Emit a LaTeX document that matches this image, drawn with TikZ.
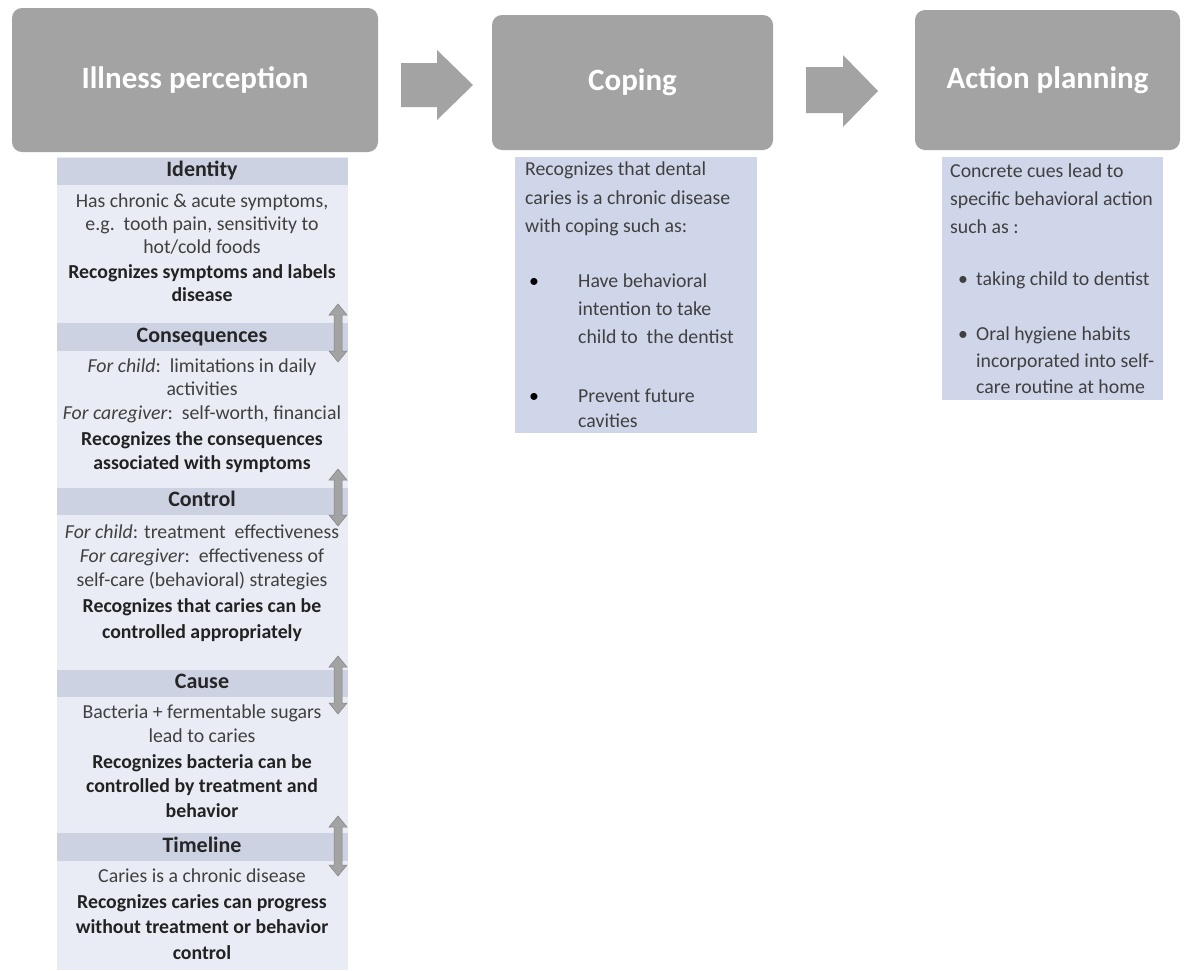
\documentclass[tikz,border=0pt]{standalone}
\usepackage{fontspec}
\setmainfont{Carlito}
\definecolor{hdr}{HTML}{A3A3A3}
\definecolor{panel}{HTML}{E9ECF4}
\definecolor{band}{HTML}{CDD2E2}
\definecolor{card}{HTML}{D0D6E9}
\definecolor{txt}{HTML}{404040}
\definecolor{btxt}{HTML}{222222}
\definecolor{arr}{HTML}{A3A3A3}
\newcommand\vdbl[3]{%
  \fill[arr,draw=arr!80!black,line width=0.5pt]
   (#1-4,#2+11) -- (#1-9,#2+11) -- (#1,#2) -- (#1+9,#2+11) -- (#1+4,#2+11)
   -- (#1+4,#3-11) -- (#1+9,#3-11) -- (#1,#3) -- (#1-9,#3-11) -- (#1-4,#3-11) -- cycle;}
\tikzset{
  hdrbox/.style={fill=hdr, rounded corners=10pt, text=white, inner sep=0pt,
     font=\fontsize{31}{37}\selectfont\bfseries},
  nrm/.style={text=txt, inner sep=0pt, text height=14pt, text depth=4pt,
     font=\fontsize{19.8}{24}\selectfont},
  bld/.style={nrm, text=btxt, font=\fontsize{19.8}{24}\selectfont\bfseries},
  ttl/.style={bld, text=black!85, font=\fontsize{22}{26}\selectfont\bfseries},
  lft/.style={nrm, anchor=west},
}
\begin{document}
\begin{tikzpicture}[x=1pt,y=-1pt]
\useasboundingbox[fill=white] (0,0) rectangle (1186,970);
% header boxes
\node[hdrbox, minimum width=366pt, minimum height=144pt] (ip) at (195,80) {Illness perception};
\node[hdrbox, minimum width=281pt, minimum height=135pt] (cp) at (632.5,82.5) {Coping};
\node[hdrbox, minimum width=265pt, minimum height=140pt] (ap) at (1047.5,80) {Action planning};
% block arrows
\fill[arr] (401,63) -- (437,63) -- (437,50) -- (473,85) -- (437,120) -- (437,107) -- (401,107) -- cycle;
\fill[arr] (806,67) -- (843,67) -- (843,55) -- (878,91) -- (843,127) -- (843,113) -- (806,113) -- cycle;
% left panel
\fill[panel] (57,157) rectangle (348,970);
\fill[band] (57,158) rectangle (348,185);
\fill[band] (57,323) rectangle (348,351);
\fill[band] (57,488) rectangle (348,515);
\fill[band] (57,670) rectangle (348,697);
\fill[band] (57,833) rectangle (348,861);
\node[ttl] (t1) at (202,171) {Identity};
\node[nrm] (a1) at (202,202) {Has chronic \& acute symptoms,};
\node[nrm] (a2) at (202,225) {e.g.\ \ tooth pain, sensitivity to};
\node[nrm] (a3) at (202,248) {hot/cold foods};
\node[bld] (a4) at (202,273) {Recognizes symptoms and labels};
\node[bld] (a5) at (202,296) {disease};
\node[ttl] (t2) at (202,337) {Consequences};
\node[nrm] (b1) at (202,367) {\textit{For child}:\ \ limitations in daily};
\node[nrm] (b2) at (202,390) {activities};
\node[nrm] (b3) at (202,414) {\textit{For caregiver}:\ \ self-worth, financial};
\node[bld] (b4) at (202,440) {Recognizes the consequences};
\node[bld] (b5) at (202,464) {associated with symptoms};
\node[ttl] (t3) at (202,501) {Control};
\node[nrm] (c1) at (202,533) {\textit{For child}: treatment\ \ effectiveness};
\node[nrm] (c2) at (202,557) {\textit{For caregiver}:\ \ effectiveness of};
\node[nrm] (c3) at (202,581) {self-care (behavioral) strategies};
\node[bld] (c4) at (202,607) {Recognizes that caries can be};
\node[bld] (c5) at (202,633) {controlled appropriately};
\node[ttl] (t4) at (202,683) {Cause};
\node[nrm] (d1) at (202,713) {Bacteria + fermentable sugars};
\node[nrm] (d2) at (202,737) {lead to caries};
\node[bld] (d3) at (202,763) {Recognizes bacteria can be};
\node[bld] (d4) at (202,787) {controlled by treatment and};
\node[bld] (d5) at (202,812) {behavior};
\node[ttl] (t5) at (202,847) {Timeline};
\node[nrm] (e1) at (202,877) {Caries is a chronic disease};
\node[bld] (e2) at (202,903) {Recognizes caries can progress};
\node[bld] (e3) at (202,928) {without treatment or behavior};
\node[bld] (e4) at (202,954) {control};
% vertical double arrows
\vdbl{338}{304}{362}
\vdbl{338}{469}{526}
\vdbl{338}{656}{714}
\vdbl{338}{816}{876}
% middle card
\fill[card] (515,157) rectangle (757,433);
\node[lft] (m1) at (525,170) {Recognizes that dental};
\node[lft] (m2) at (525,199) {caries is a chronic disease};
\node[lft] (m3) at (525,227) {with coping such as:};
\node[lft, text=black] (mb1) at (529,282) {•};
\node[lft] (m4) at (578,282) {Have behavioral};
\node[lft] (m5) at (578,310) {intention to take};
\node[lft] (m6) at (578,338) {child to\ \ the dentist};
\node[lft, text=black] (mb2) at (529,397) {•};
\node[lft] (m7) at (578,397) {Prevent future};
\node[lft] (m8) at (578,422) {cavities};
% right card
\fill[card] (942,157) rectangle (1163,400);
\node[lft] (r1) at (950,172) {Concrete cues lead to};
\node[lft] (r2) at (950,200) {specific behavioral action};
\node[lft] (r3) at (950,228) {such as :};
\node[lft] (rb1) at (958,280) {•};
\node[lft] (r4) at (976,280) {taking child to dentist};
\node[lft] (rb2) at (958,335) {•};
\node[lft] (r5) at (976,335) {Oral hygiene habits};
\node[lft] (r6) at (976,362) {incorporated into self-};
\node[lft] (r7) at (976,388) {care routine at home};
\end{tikzpicture}
\end{document}
